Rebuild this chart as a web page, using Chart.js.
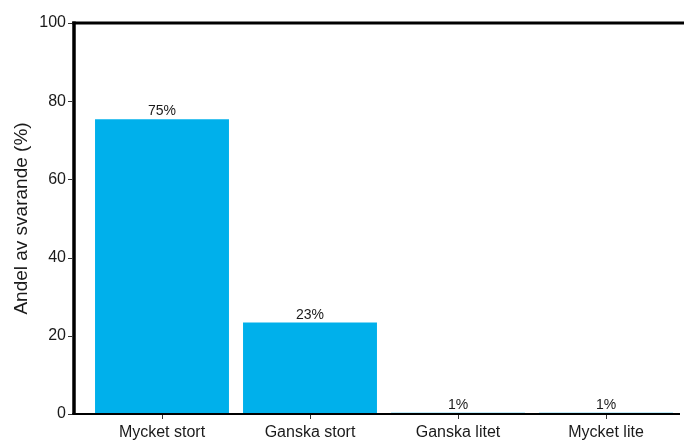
<!DOCTYPE html>
<html>
<head>
<meta charset="utf-8">
<script src="https://cdn.jsdelivr.net/npm/chart.js@4"></script>
<style>
html,body{margin:0;padding:0;background:#fff;}
#wrap{width:684px;height:442px;}
</style>
</head>
<body>
<div id="wrap"><canvas id="c" width="684" height="442"></canvas></div>
<script>
const categories = ["Mycket stort", "Ganska stort", "Ganska litet", "Mycket lite"];
const values = [75.4, 23.4, 0.3, 0.3];
const valueLabels = ["75%", "23%", "1%", "1%"];
const yTicks = [0, 20, 40, 60, 80, 100];
const yTitle = "Andel av svarande (%)";

const FONT = "'Liberation Sans', Arial, sans-serif";

const framePlugin = {
  id: 'frame',
  afterDatasetsDraw(chart) {
    const ctx = chart.ctx;
    const y = chart.scales.y, x = chart.scales.x;
    ctx.save();
    ctx.fillStyle = '#1a1a1a';
    ctx.font = '14px ' + FONT;
    ctx.textAlign = 'center';
    ctx.textBaseline = 'alphabetic';
    chart.getDatasetMeta(0).data.forEach((bar, i) => {
      ctx.fillText(valueLabels[i], bar.x, bar.y - 4);
    });
    const axX = 74;
    ctx.strokeStyle = '#000';
    ctx.lineWidth = 3.5;
    ctx.beginPath();
    ctx.moveTo(axX, y.getPixelForValue(100) - 1.5);
    ctx.lineTo(axX, y.getPixelForValue(0) + 1);
    ctx.stroke();
    ctx.lineWidth = 3;
    ctx.beginPath();
    ctx.moveTo(axX - 1.75, y.getPixelForValue(100));
    ctx.lineTo(684, y.getPixelForValue(100));
    ctx.stroke();
    ctx.lineWidth = 2;
    ctx.beginPath();
    ctx.moveTo(axX - 1.75, y.getPixelForValue(0));
    ctx.lineTo(680, y.getPixelForValue(0));
    ctx.stroke();
    ctx.lineWidth = 1;
    ctx.strokeStyle = '#333';
    yTicks.forEach(v => {
      const py = Math.round(y.getPixelForValue(v)) + 0.5;
      ctx.beginPath();
      ctx.moveTo(68, py);
      ctx.lineTo(axX - 1.75, py);
      ctx.stroke();
    });
    categories.forEach((c, i) => {
      const px = Math.round(x.getPixelForValue(i)) + 0.5;
      ctx.beginPath();
      ctx.moveTo(px, y.getPixelForValue(0) + 1);
      ctx.lineTo(px, y.getPixelForValue(0) + 5);
      ctx.stroke();
    });
    ctx.restore();
  }
};

new Chart(document.getElementById('c'), {
  type: 'bar',
  data: {
    labels: categories,
    datasets: [{
      data: values,
      backgroundColor: '#00b0eb',
      borderWidth: 0,
      categoryPercentage: 1,
      barPercentage: 0.905
    }]
  },
  options: {
    responsive: false,
    animation: false,
    devicePixelRatio: 1,
    layout: { padding: { top: 23, right: 4, left: 0, bottom: 0 } },
    plugins: { legend: { display: false }, tooltip: { enabled: false } },
    scales: {
      x: {
        grid: { display: false, drawTicks: false },
        border: { display: false },
        ticks: { color: '#1a1a1a', font: { family: FONT, size: 16 }, padding: 9, maxRotation: 0, autoSkip: false },
        afterFit(s) { s.height = 28; s.paddingLeft = 0; s.paddingRight = 0; }
      },
      y: {
        min: 0, max: 100,
        afterBuildTicks(s) { s.ticks = yTicks.map(v => ({ value: v })); },
        grid: { display: false, drawTicks: false },
        border: { display: false },
        ticks: { color: '#1a1a1a', font: { family: FONT, size: 16 }, padding: 22 },
        title: { display: true, text: yTitle, color: '#1a1a1a', font: { family: FONT, size: 19 }, padding: { top: 10, bottom: 0 } },
        afterFit(s) { s.width = 88; s.paddingTop = 0; s.paddingBottom = 0; }
      }
    }
  },
  plugins: [framePlugin]
});
</script>
</body>
</html>
